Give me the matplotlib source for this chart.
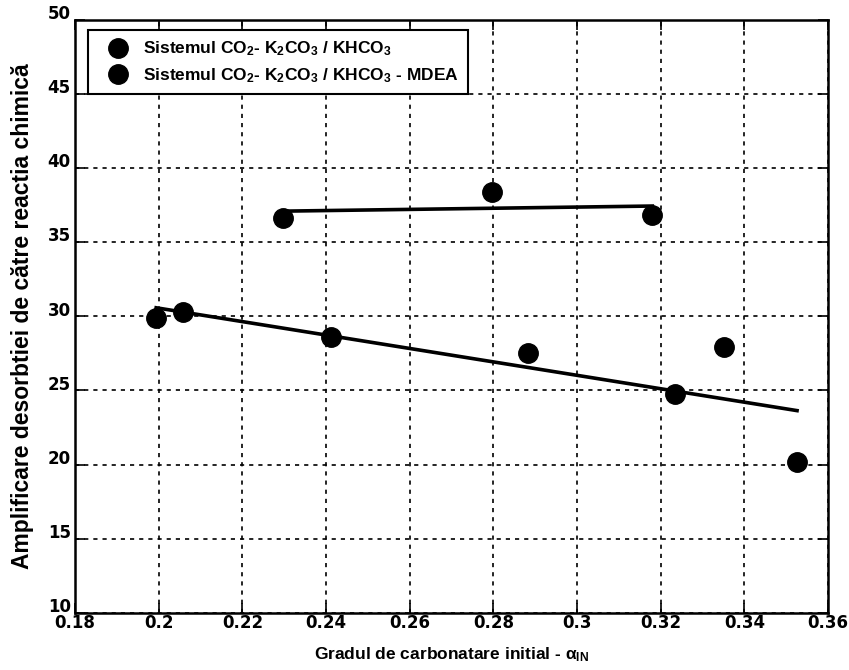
import numpy as np
import matplotlib
matplotlib.use("Agg")
import matplotlib.pyplot as plt
import matplotlib.transforms as mtransforms
from matplotlib.lines import Line2D

plt.rcParams["font.family"] = ["Liberation Sans", "DejaVu Sans"]
plt.rcParams["font.weight"] = "bold"
plt.rcParams["mathtext.fontset"] = "custom"
plt.rcParams["mathtext.rm"] = "Liberation Sans:bold"
plt.rcParams["mathtext.it"] = "Liberation Sans:bold"
plt.rcParams["mathtext.bf"] = "Liberation Sans:bold"
plt.rcParams["mathtext.default"] = "bf"

# K2CO3 / KHCO3 system
alpha_k2co3 = [0.1994, 0.2059, 0.2413, 0.2883, 0.3234, 0.3352, 0.3526]
enh_k2co3 = [29.9, 30.27, 28.57, 27.5, 24.73, 27.95, 20.18]

# K2CO3 / KHCO3 - MDEA system
alpha_mdea = [0.2297, 0.2796, 0.3180]
enh_mdea = [36.6, 38.39, 36.8]

x_ticks = [0.18, 0.2, 0.22, 0.24, 0.26, 0.28, 0.3, 0.32, 0.34, 0.36]
x_tick_labels = ["0.18", "0.2", "0.22", "0.24", "0.26", "0.28", "0.3", "0.32", "0.34", "0.36"]
y_ticks = [10, 15, 20, 25, 30, 35, 40, 45, 50]

fig = plt.figure(figsize=(8.49, 6.70), dpi=100)
ax = fig.add_axes([75 / 849, 1 - 613 / 670, 753 / 849, 593.5 / 670])

ax.set_xlim(0.18, 0.36)
ax.set_ylim(10, 50)
ax.set_xticks(x_ticks)
ax.set_xticklabels(x_tick_labels)
ax.set_yticks(y_ticks)

ax.grid(True, color="black", linestyle=(0, (2.5, 3)), linewidth=1.2)
ax.set_axisbelow(True)

for xs, ys in ((alpha_k2co3, enh_k2co3), (alpha_mdea, enh_mdea)):
    xs = np.asarray(xs)
    ys = np.asarray(ys)
    k, b = np.polyfit(xs, ys, 1)
    xf = np.array([xs.min(), xs.max()])
    ax.plot(xf, k * xf + b, color="black", linewidth=2.6, zorder=3)
    ax.plot(xs, ys, linestyle="none", marker="o", markersize=14,
            color="black", zorder=4)

ax.tick_params(direction="in", length=7, width=1.2, top=True, right=True,
               labelsize=12, pad=3)
ax.tick_params(axis="x", pad=1)
for lab in ax.get_xticklabels() + ax.get_yticklabels():
    lab.set_fontweight("bold")
    lab.set_family("DejaVu Sans")
# y tick numbers sit slightly above their ticks
lift = mtransforms.ScaledTranslation(0, 5.5 / 72, fig.dpi_scale_trans)
for lab in ax.get_yticklabels():
    lab.set_transform(lab.get_transform() + lift)
for sp in ax.spines.values():
    sp.set_linewidth(1.8)

ax.set_xlabel(r"Gradul de carbonatare initial - $\alpha_{IN}$", fontsize=12.5,
              fontweight="bold", labelpad=9)
ax.set_ylabel("Amplificare desorbtiei de către reactia chimică", fontsize=16.5,
              fontweight="bold", labelpad=10)

handles = [
    Line2D([], [], linestyle="none", marker="o", markersize=14, color="black"),
    Line2D([], [], linestyle="none", marker="o", markersize=14, color="black"),
]
labels = [
    r"Sistemul CO$_2$- K$_2$CO$_3$ / KHCO$_3$",
    r"Sistemul CO$_2$- K$_2$CO$_3$ / KHCO$_3$ - MDEA",
]
leg = ax.legend(handles, labels, loc="upper left", bbox_to_anchor=(0.017, 0.982),
                fontsize=12.5, frameon=True, fancybox=False, framealpha=1,
                edgecolor="black", handletextpad=0.22, borderpad=0.55,
                labelspacing=0.45, handlelength=2.4, borderaxespad=0)
leg.get_frame().set_linewidth(1.5)
for t in leg.get_texts():
    t.set_fontweight("bold")

fig.savefig("out.png", dpi=100)
